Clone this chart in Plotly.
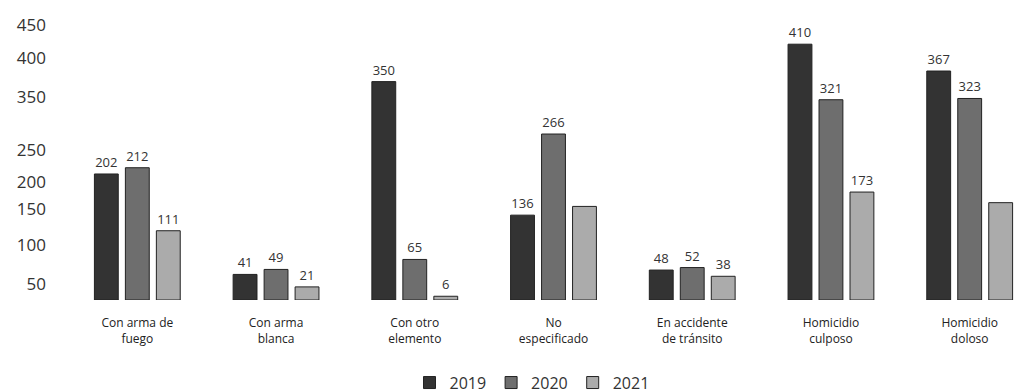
import plotly.graph_objects as go

categories = ["Con arma de<br>fuego", "Con arma<br>blanca", "Con otro<br>elemento", "No<br>especificado",
              "En accidente<br>de tránsito", "Homicidio<br>culposo", "Homicidio<br>doloso"]
years = ["2019", "2020", "2021"]
values_2019 = [202, 41, 350, 136, 48, 410, 367]
values_2020 = [212, 49, 65, 266, 52, 321, 323]
values_2021 = [111, 21, 6, 150, 38, 173, 156]
labels_2019 = ["202", "41", "350", "136", "48", "410", "367"]
labels_2020 = ["212", "49", "65", "266", "52", "321", "323"]
labels_2021 = ["111", "21", "6", "", "38", "173", ""]
# y-axis labels as printed in the (misaligned) reference scan, and where they sit
y_tick_text = ["50", "100", "150", "200", "250", "350", "400", "450"]
y_tick_pos = [25, 88, 145, 189, 240, 326, 388, 440]

colors = ["#333333", "#6e6e6e", "#ababab"]
series = [values_2019, values_2020, values_2021]
labels = [labels_2019, labels_2020, labels_2021]

fig = go.Figure()
for yr, vals, txt, col in zip(years, series, labels, colors):
    fig.add_trace(go.Bar(
        x=categories, y=vals, name=yr, text=txt, textposition="outside",
        marker=dict(color=col, line=dict(color="#222222", width=1)),
        textfont=dict(size=13, color="#333333"), cliponaxis=False,
    ))

fig.update_layout(
    width=1028, height=392,
    margin=dict(l=68, r=0, t=0, b=95),
    paper_bgcolor="white", plot_bgcolor="white",
    barmode="group", bargap=0.33, bargroupgap=0.23,
    font=dict(family="Open Sans, DejaVu Sans, sans-serif", color="#333333"),
    showlegend=True,
    legend=dict(orientation="h", x=0.475, xanchor="center", y=-0.283, yanchor="middle",
                font=dict(size=16, color="#333333"), itemwidth=30, traceorder="normal"),
    xaxis=dict(range=[-0.442, 6.478], showline=False, showgrid=False, ticks="",
               tickfont=dict(size=12, color="#222222"), ticklabelstandoff=14),
    yaxis=dict(range=[0, 468], showgrid=False, zeroline=False, showline=False,
               tickmode="array", tickvals=y_tick_pos, ticktext=y_tick_text,
               tickfont=dict(size=17, color="#333333"), ticklabelstandoff=29),
)

fig.write_html("out.html")
